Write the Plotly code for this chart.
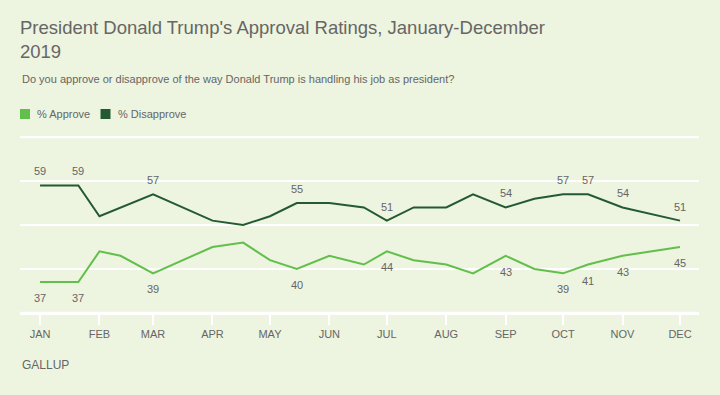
import plotly.graph_objects as go

# ---- data ----
dates = ["2019-01-01", "2019-01-21", "2019-02-01", "2019-02-12", "2019-03-01",
         "2019-04-01", "2019-04-17", "2019-05-01", "2019-05-15", "2019-06-01",
         "2019-06-19", "2019-07-01", "2019-07-15", "2019-08-01", "2019-08-15",
         "2019-09-01", "2019-09-16", "2019-10-01", "2019-10-14", "2019-11-01",
         "2019-12-01"]
approve = [37, 37, 44, 43, 39, 45, 46, 42, 40, 43, 41, 44, 42, 41, 39, 43, 40, 39, 41, 43, 45]
disapprove = [59, 59, 52, 54, 57, 51, 50, 52, 55, 55, 54, 51, 54, 54, 57, 54, 56, 57, 57, 54, 51]
labeled = [0, 1, 4, 8, 11, 15, 17, 18, 19, 20]
tick_dates = ["2019-%02d-01" % m for m in range(1, 13)]
tick_labels = ["JAN", "FEB", "MAR", "APR", "MAY", "JUN", "JUL", "AUG", "SEP", "OCT", "NOV", "DEC"]
series_names = ["% Approve", "% Disapprove"]
y_grid = [30, 40, 50, 60, 70]

# ---- style ----
BG = "#edf4df"
C_APP = "#62bf4b"
C_DIS = "#245a33"
GREY = "#666666"
FONT = "Liberation Sans, Arial, sans-serif"

W, H = 720, 395
Y_LO, Y_HI = 29.97, 73.0
UNIT = 4.4  # px per percentage point
L, R, B = 20, 21, 82
T = round(137 - (Y_HI - 70) * UNIT)
PW = W - L - R
PH = H - T - B

def px(x):
    return (x - L) / PW

def py(y):
    return (H - B - y) / PH

fig = go.Figure()
fig.add_trace(go.Scatter(x=dates, y=approve, mode="lines", name=series_names[0],
                         line=dict(color=C_APP, width=2), showlegend=False,
                         hoverinfo="x+y"))
fig.add_trace(go.Scatter(x=dates, y=disapprove, mode="lines", name=series_names[1],
                         line=dict(color=C_DIS, width=2), showlegend=False,
                         hoverinfo="x+y"))

ann = []
for i in labeled:
    ann.append(dict(x=dates[i], y=disapprove[i], text=str(disapprove[i]), showarrow=False,
                    yshift=14, xanchor="center", yanchor="middle",
                    font=dict(family=FONT, size=11, color=GREY)))
    ann.append(dict(x=dates[i], y=approve[i], text=str(approve[i]), showarrow=False,
                    yshift=-16, xanchor="center", yanchor="middle",
                    font=dict(family=FONT, size=11, color=GREY)))

# subtitle
ann.append(dict(xref="paper", yref="paper", x=px(20), y=py(79),
                text="Do you approve or disapprove of the way Donald Trump is handling his job as president?",
                showarrow=False, xanchor="left", yanchor="middle",
                font=dict(family=FONT, size=11, color=GREY)))

shapes = []
# horizontal grid lines from the grid values
for v in y_grid:
    shapes.append(dict(type="line", xref="paper", yref="y", x0=0, x1=1, y0=v, y1=v,
                       line=dict(color="white", width=2), layer="between"))
# legend
leg = [(20, C_APP, series_names[0]), (100.5, C_DIS, series_names[1])]
for x0, col, name in leg:
    shapes.append(dict(type="rect", xref="paper", yref="paper",
                       x0=px(x0), x1=px(x0 + 10), y0=py(119), y1=py(109),
                       fillcolor=col, line=dict(width=0)))
    ann.append(dict(xref="paper", yref="paper", x=px(x0 + 15), y=py(114), text=name,
                    showarrow=False, xanchor="left", yanchor="middle",
                    font=dict(family=FONT, size=11, color=GREY)))
# source
ann.append(dict(xref="paper", yref="paper", x=px(20), y=py(365), text="GALLUP",
                showarrow=False, xanchor="left", yanchor="middle",
                font=dict(family=FONT, size=12, color=GREY)))

fig.update_layout(
    width=W, height=H,
    margin=dict(l=L, r=R, t=T, b=B, pad=0),
    paper_bgcolor=BG, plot_bgcolor=BG,
    title=dict(text="President Donald Trump's Approval Ratings, January-December<br>2019",
               x=20 / W, xanchor="left", xref="container",
               y=1 - 34 / H, yanchor="middle", yref="container",
               font=dict(family=FONT, size=18.5, color=GREY)),
    annotations=ann,
    shapes=shapes,
    showlegend=False,
    xaxis=dict(type="date", range=["2018-12-21 13:00", "2019-12-10 22:00"],
               tickmode="array", tickvals=tick_dates, ticktext=tick_labels,
               ticks="outside", ticklen=10, tickwidth=2, tickcolor="white",
               showline=True, linecolor="white", linewidth=2,
               showgrid=False, zeroline=False,
               tickfont=dict(family=FONT, size=11, color=GREY),
               ticklabelstandoff=0, fixedrange=True),
    yaxis=dict(range=[Y_LO, Y_HI], tickmode="array", tickvals=y_grid, showticklabels=False,
               showgrid=True, gridcolor="white", gridwidth=2,
               zeroline=False, showline=False, fixedrange=True),
)

fig.write_html("out.html", config={"displayModeBar": False},
               post_script="document.body.style.margin='0';document.body.style.background='%s';" % BG)
